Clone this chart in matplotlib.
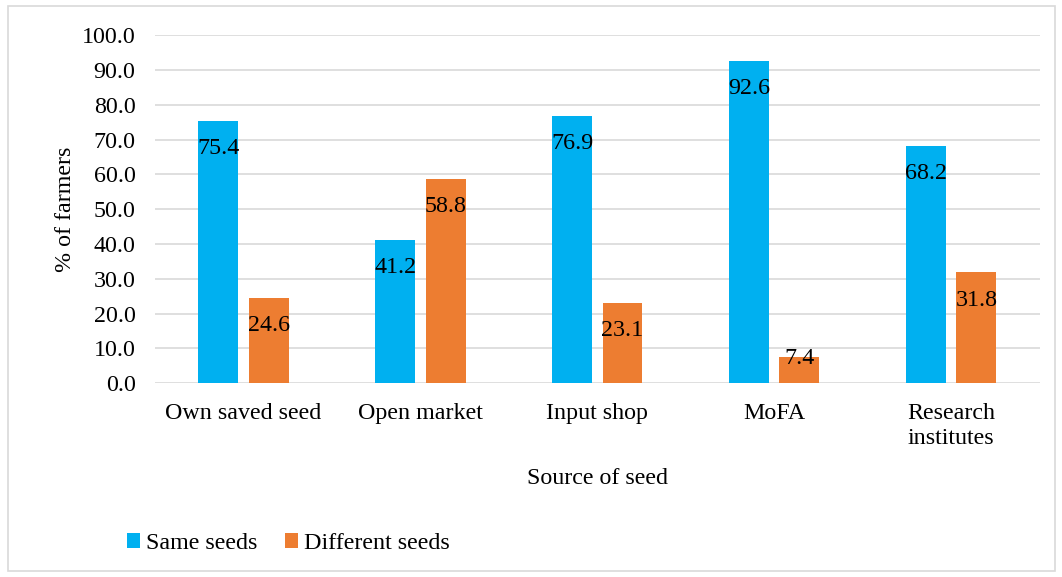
import numpy as np
import matplotlib.pyplot as plt
from matplotlib.patches import Rectangle

categories = ["Own saved seed", "Open market", "Input shop", "MoFA", "Research\ninstitutes"]
same_seeds = [75.4, 41.2, 76.9, 92.6, 68.2]
different_seeds = [24.6, 58.8, 23.1, 7.4, 31.8]

plt.rcParams['font.family'] = ['Liberation Serif', 'DejaVu Serif']
fs = 17.3

fig = plt.figure(figsize=(10.62, 5.77), dpi=100)
ax = fig.add_axes([0.146, 0.336, 0.833, 0.603])

x = np.arange(len(categories))
w = 0.226
b1 = ax.bar(x - 0.142, same_seeds, w, color="#00B0F0", label="Same seeds", zorder=3)
b2 = ax.bar(x + 0.142, different_seeds, w, color="#ED7D31", label="Different seeds", zorder=3)

# labels sit just inside the top of each bar
for bars in (b1, b2):
    for r in bars:
        v = r.get_height()
        y = v - 8 if v > 15 else v - 0.2
        ax.text(r.get_x() + r.get_width() / 2, y, f"{v:.1f}", ha="center", va="center",
                fontsize=fs, color="black", zorder=4)

ax.set_xlim(-0.5, len(categories) - 0.5)
ax.set_ylim(0, 100)
ax.set_yticks(np.arange(0, 101, 10))
ax.set_yticklabels([f"{t:.1f}" for t in np.arange(0, 101, 10)])
ax.set_xticks(x)
ax.set_xticklabels(categories, linespacing=1.25)
ax.tick_params(axis="both", length=0, labelsize=fs)
ax.tick_params(axis="y", pad=14)
ax.tick_params(axis="x", pad=14)
ax.grid(axis="y", color="#D9D9D9", linewidth=1.2, zorder=0)
for s in ax.spines.values():
    s.set_visible(False)

ax.set_ylabel("% of farmers", fontsize=fs, labelpad=4)
ax.set_xlabel("Source of seed", fontsize=fs, labelpad=14)

fig.legend(handles=[b1, b2], loc="center left", bbox_to_anchor=(0.099, 0.058), ncol=2,
           frameon=False, fontsize=fs, handlelength=0.55, handleheight=0.55,
           handletextpad=0.25, columnspacing=1.15)

fig.patches.append(Rectangle((0.008, 0.01), 0.985, 0.98, transform=fig.transFigure,
                             fill=False, edgecolor="#D9D9D9", linewidth=1.2))

fig.savefig("out.png", dpi=100)
